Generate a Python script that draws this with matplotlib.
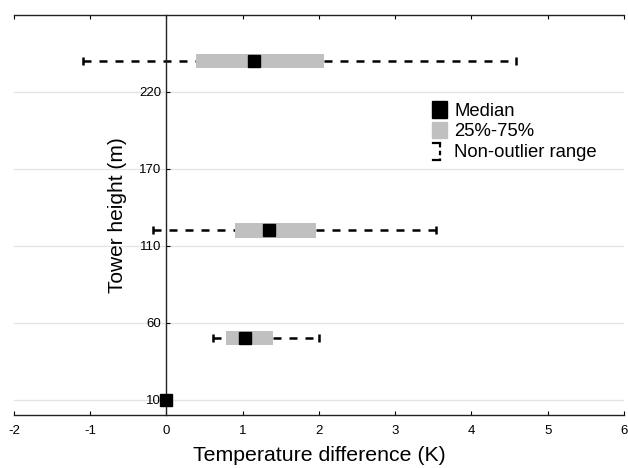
import matplotlib
matplotlib.use('Agg')
import matplotlib.pyplot as plt
from matplotlib.patches import Patch
from matplotlib.lines import Line2D
from matplotlib.legend_handler import HandlerBase

plt.rcParams['font.family'] = ['Liberation Sans', 'DejaVu Sans']

# data (K)
heights = [10, 50, 120, 230]
medians = [0.0, 1.03, 1.35, 1.15]
q25 = [0.0, 0.78, 0.90, 0.39]
q75 = [0.0, 1.40, 1.96, 2.07]
lo_whisk = [0.0, 0.61, -0.18, -1.10]
hi_whisk = [0.0, 2.00, 3.54, 4.59]

ytick_pos = [10, 60, 110, 160, 210]
ytick_labels = ['10', '60', '110', '170', '220']
xticks = [-2, -1, 0, 1, 2, 3, 4, 5, 6]

box_gray = '#c0c0c0'


class BracketHandler(HandlerBase):
    # little dashed bracket like the one in the original legend
    def create_artists(self, legend, orig_handle, xdescent, ydescent,
                       width, height, fontsize, trans):
        x0 = -xdescent + width * 0.05
        x1 = -xdescent + width * 0.55
        y0 = -ydescent - height * 0.05
        y1 = -ydescent + height * 1.0
        kw = dict(color='black', lw=1.6, transform=trans)
        a = Line2D([x0, x1], [y1, y1], **kw)
        b = Line2D([x1, x1], [y1, y0], dashes=(2, 1.5), **kw)
        c = Line2D([x0 + 0.25 * width, x1], [y0, y0], **kw)
        d = Line2D([x0, x0 + 0.08 * width], [y0, y0], **kw)
        return [a, b, c, d]


fig = plt.figure(figsize=(6.28, 4.68), dpi=100)
ax = fig.add_axes([0.0223, 0.1132, 0.9713, 0.8548])

for i in range(len(heights)):
    h = heights[i]
    if hi_whisk[i] > lo_whisk[i]:
        ax.plot([lo_whisk[i], q25[i]], [h, h], color='black', lw=1.8,
                dashes=(3.2, 3.2), zorder=2)
        ax.plot([q75[i], hi_whisk[i]], [h, h], color='black', lw=1.8,
                dashes=(3.2, 3.2), zorder=2)
        ax.plot([lo_whisk[i], hi_whisk[i]], [h, h], ls='none', marker='|',
                ms=6, mew=1.8, color='black', zorder=2)
    if q75[i] > q25[i]:
        ax.barh(h, q75[i] - q25[i], left=q25[i], height=9.5,
                color=box_gray, lw=0, zorder=3)
    ax.plot(medians[i], h, ls='none', marker='s', ms=9, color='black',
            zorder=4, clip_on=False)

ax.set_xlim(-2, 6)
ax.set_ylim(0, 260)
ax.set_xticks(xticks)
ax.set_xticklabels([str(t) for t in xticks])
ax.set_yticks(ytick_pos)
ax.set_yticklabels(ytick_labels)

ax.spines['right'].set_visible(False)
ax.spines['left'].set_position(('data', 0))
for s in ['left', 'top', 'bottom']:
    ax.spines[s].set_linewidth(1.0)
    ax.spines[s].set_color('#222222')

ax.tick_params(axis='x', direction='in', length=3, top=True,
               labelsize=9.5, pad=7)
ax.tick_params(axis='y', direction='in', length=3, labelsize=9.5, pad=4)
ax.grid(axis='y', color='#e3e3e3', lw=0.9, zorder=0)
ax.set_axisbelow(True)

ax.set_xlabel('Temperature difference (K)', fontsize=15.3, va='center')
ax.xaxis.set_label_coords(0.5, -0.1)
ax.set_ylabel('Tower height (m)', fontsize=15, va='center')
ax.yaxis.set_label_coords(0.17, 0.5)

handles = [Patch(color='black'), Patch(color=box_gray), Line2D([], [])]
labels = ['Median', '25%-75%', 'Non-outlier range']
ax.legend(handles, labels, loc='upper left', bbox_to_anchor=(0.67, 0.808),
          frameon=False, fontsize=13.3, handlelength=0.8, handleheight=1.0,
          handletextpad=0.42, labelspacing=0.12, borderpad=0,
          handler_map={Line2D: BracketHandler()})

fig.savefig('out.png', dpi=100)
